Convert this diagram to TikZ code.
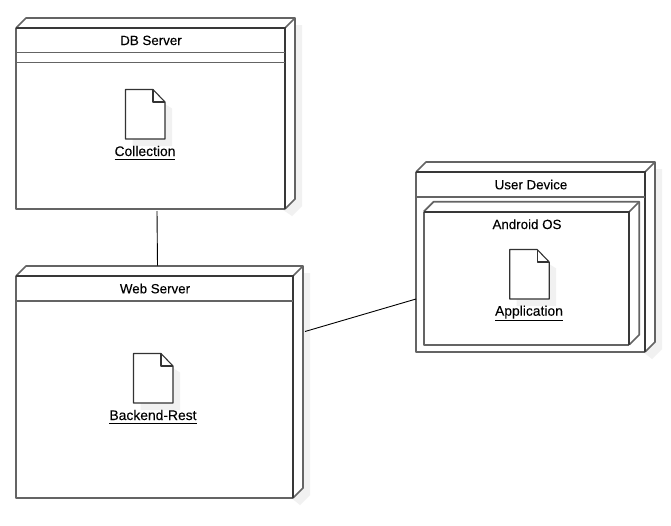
\documentclass[tikz,border=0pt]{standalone}
\usepackage{fontspec}
\setmainfont{Liberation Sans}[FakeBold=0.12]
\usetikzlibrary{fit,calc}
\definecolor{edgegray}{HTML}{646464}
\definecolor{edgedark}{HTML}{383838}
\definecolor{shadowgray}{HTML}{F1F1F1}
\tikzset{
  x=0.75pt,y=-0.75pt,
  boxline/.style={draw=edgegray,line width=1.7*0.75pt,line join=round},
  darkline/.style={draw=edgedark,line width=1.8*0.75pt},
  thinline/.style={draw=black!80,line width=1.1*0.75pt,line join=round},
  shadow/.style={fill=shadowgray,draw=none},
  conn/.style={draw=black,line width=0.9*0.75pt},
  title/.style={font=\fontsize{10}{12}\selectfont,text=black,inner sep=0pt,anchor=base},
  artifactname/.style={font=\fontsize{10.4}{12}\selectfont,text=black,inner sep=0pt,anchor=base},
  frontarea/.style={inner sep=0pt,outer sep=0pt},
}
\newcommand{\ulname}[1]{\underline{\rule[-1.3pt]{0pt}{1pt}#1}}
% #1 name, #2 x1, #3 y1, #4 x2, #5 y2, #6 shadow offset
\newcommand{\umlbox}[6]{%
  \fill[shadow] (#2+#6,#3+#6) -- (#2+#6+10,#3+#6-10) -- (#4+#6+10,#3+#6-10) -- (#4+#6+10,#5+#6-10) -- (#4+#6,#5+#6) -- cycle;
  \fill[white] (#2,#3) -- (#2+10,#3-10) -- (#4+10,#3-10) -- (#4+10,#5-10) -- (#4,#5) -- (#2,#5) -- cycle;
  \coordinate (#1-a) at (#2,#3);
  \coordinate (#1-b) at (#4,#5);
  \node[frontarea,fit=(#1-a)(#1-b)] (#1) {};
  \draw[boxline] (#2,#3) -- (#2+10,#3-10) -- (#4+10,#3-10) -- (#4+10,#5-10) -- (#4,#5);
  \draw[boxline] (#4,#3) -- (#4+10,#3-10);
  \draw[boxline] (#4,#5) -- (#2,#5) -- (#2,#3);
  \draw[darkline] (#2,#3) -- (#4,#3) -- (#4,#5);
}
% #1 name, #2 x1, #3 y1
\newcommand{\umldoc}[3]{%
  \fill[shadowgray] (#2+7,#3+7) -- (#2+27.5,#3+7) -- (#2+46.5,#3+19) -- (#2+46.5,#3+56.5) -- (#2+7,#3+56.5) -- cycle;
  \draw[thinline,fill=white] (#2,#3) -- (#2+27.5,#3) -- (#2+39.5,#3+12.5) -- (#2+39.5,#3+49.5) -- (#2,#3+49.5) -- cycle;
  \draw[thinline] (#2+27.5,#3) -- (#2+27.5,#3+12.5) -- (#2+39.5,#3+12.5);
  \coordinate (#1) at (#2+19.75,#3+24.75);
}
\begin{document}
\begin{tikzpicture}
\useasboundingbox (0,0) rectangle (671,525);
\fill[white] (0,0) rectangle (671,525);

% DB Server
\umlbox{db}{16}{28}{285}{209}{7}
\draw[boxline] (16,52.5) -- (285,52.5);
\draw[boxline] (16,62.5) -- (285,62.5);
\node[title] (dbtitle) at (151,45) {DB Server};
\umldoc{dbdoc}{125.5}{89.5}
\node[artifactname] (collection) at (145,156) {\ulname{Collection}};

% Web Server
\umlbox{web}{16}{276}{293}{498}{7}
\draw[boxline] (16,300.7) -- (293,300.7);
\node[title] (webtitle) at (155,293.3) {Web Server};
\umldoc{webdoc}{133.5}{353.5}
\node[artifactname] (backend) at (153,420) {\ulname{Backend-Rest}};

% User Device
\umlbox{user}{416}{172}{645}{352}{7}
\draw[boxline] (416,196.7) -- (645,196.7);
\node[title] (usertitle) at (531,189.3) {User Device};

% Android OS
\umlbox{android}{423.7}{211.7}{629.3}{344.7}{0}
\node[title] (androidtitle) at (527,229) {Android OS};
\umldoc{appdoc}{509.7}{249.5}
\node[artifactname] (application) at (529,315.7) {\ulname{Application}};

% Connectors
\draw[conn] ([shift={(6.5,2)}]db.south) -- ([shift={(3,-10.5)}]web.north);
\draw[conn] ([shift={(12,55.5)}]web.north east) -- ([shift={(0,37)}]user.west);
\end{tikzpicture}
\end{document}
